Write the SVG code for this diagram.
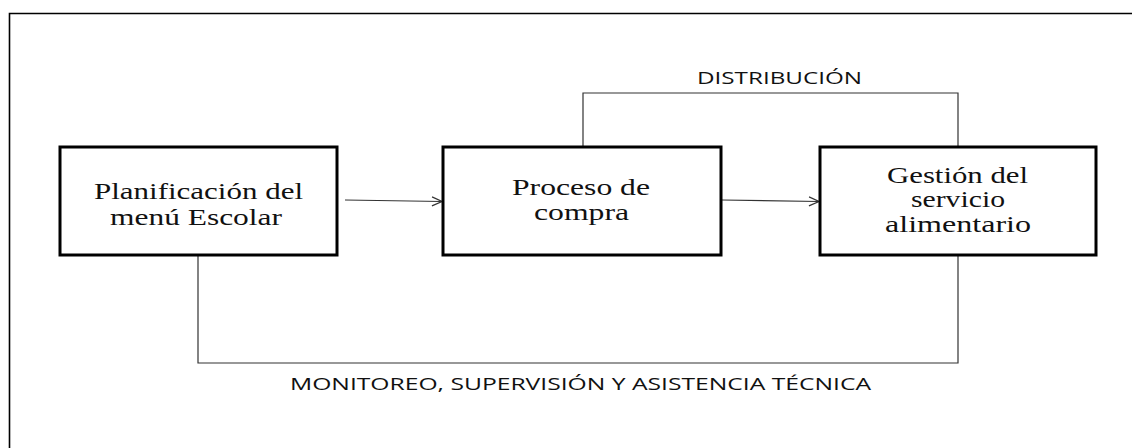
<svg xmlns="http://www.w3.org/2000/svg" width="1132" height="448" viewBox="0 0 1132 448">
  <defs>
    <style>
      .box { fill: #ffffff; stroke: #000000; stroke-width: 3; }
      .conn { fill: none; stroke: #333333; stroke-width: 1.2; }
      .frame { fill: none; stroke: #000000; stroke-width: 1.6; }
      .nt { font-family: "Liberation Serif", "Times New Roman", serif; font-size: 24px; fill: #111111; text-anchor: middle; }
      .lbl { font-family: "Open Sans", "Liberation Sans", sans-serif; font-size: 16px; fill: #111111; }
    </style>
    <marker id="arrow" markerWidth="12" markerHeight="12" refX="11" refY="6" orient="auto" markerUnits="userSpaceOnUse">
      <path d="M1,1.5 L11,6 L1,10.5" fill="none" stroke="#333333" stroke-width="1.2"/>
    </marker>
  </defs>
  <rect width="1132" height="448" fill="#ffffff"/>
  <path class="frame" d="M9.5,450 V13.5 H1134"/>

  <g id="connectors">
    <line class="conn" x1="345" y1="200" x2="442" y2="201.5" marker-end="url(#arrow)"/>
    <line class="conn" x1="722" y1="200" x2="819" y2="201.5" marker-end="url(#arrow)"/>
    <path class="conn" d="M583,147 V93 H958 V147"/>
    <path class="conn" d="M198,255 V363 H958 V255"/>
    <text class="lbl" x="697" y="84" textLength="165" lengthAdjust="spacingAndGlyphs">DISTRIBUCIÓN</text>
    <text class="lbl" x="290" y="390" textLength="581" lengthAdjust="spacingAndGlyphs">MONITOREO, SUPERVISIÓN Y ASISTENCIA TÉCNICA</text>
  </g>

  <g id="node-planificacion">
    <rect class="box" x="60" y="147" width="277" height="108"/>
    <text class="nt" x="198.5" y="199" textLength="209" lengthAdjust="spacingAndGlyphs">Planificación del</text>
    <text class="nt" x="196" y="225" textLength="172" lengthAdjust="spacingAndGlyphs">menú Escolar</text>
  </g>

  <g id="node-compra">
    <rect class="box" x="443" y="147" width="278" height="108"/>
    <text class="nt" x="581" y="195" textLength="138" lengthAdjust="spacingAndGlyphs">Proceso de</text>
    <text class="nt" x="581.5" y="220" textLength="95" lengthAdjust="spacingAndGlyphs">compra</text>
  </g>

  <g id="node-gestion">
    <rect class="box" x="820" y="147" width="276" height="108"/>
    <text class="nt" x="957.5" y="183" textLength="141" lengthAdjust="spacingAndGlyphs">Gestión del</text>
    <text class="nt" x="958" y="207" textLength="94" lengthAdjust="spacingAndGlyphs">servicio</text>
    <text class="nt" x="958" y="232" textLength="146" lengthAdjust="spacingAndGlyphs">alimentario</text>
  </g>
</svg>
